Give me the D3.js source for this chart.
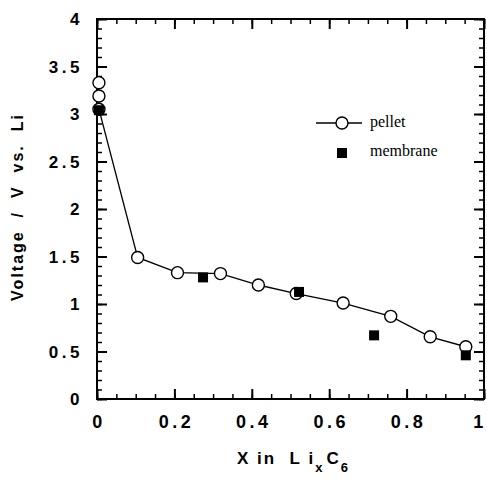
<!DOCTYPE html>
<html>
<head>
<meta charset="utf-8">
<script src="https://cdn.jsdelivr.net/npm/d3@7"></script>
<style>
  body { margin: 0; background: #fff; }
  svg { display: block; }
</style>
</head>
<body>
<div id="chart"></div>
<script>
// pellet (open circles, joined by a line)
const pelletX = [0.005, 0.005, 0.005, 0.105, 0.208, 0.319, 0.417, 0.515, 0.636, 0.759, 0.861, 0.953];
const pelletV = [3.33, 3.19, 3.05, 1.49, 1.33, 1.32, 1.20, 1.11, 1.01, 0.87, 0.655, 0.55];
// membrane (filled squares)
const membraneX = [0.005, 0.274, 0.522, 0.716, 0.953];
const membraneV = [3.04, 1.28, 1.127, 0.67, 0.46];

const xTicks = [0, 0.2, 0.4, 0.6, 0.8, 1];
const yTicks = [0, 0.5, 1, 1.5, 2, 2.5, 3, 3.5, 4];
const legendNames = ["pellet", "membrane"];

const W = 487, H = 479;
const margin = {top: 19, right: 3, bottom: 80, left: 97};
const w = W - margin.left - margin.right;
const h = H - margin.top - margin.bottom;

const svg = d3.select("#chart").append("svg")
  .attr("width", W).attr("height", H);

const chart = svg.append("g")
  .attr("transform", `translate(${margin.left},${margin.top})`);

const x = d3.scaleLinear().domain([0, 1]).range([0, w]);
const y = d3.scaleLinear().domain([0, 4]).range([h, 0]);

const xMinor = d3.range(0, 1.0001, 0.05);
const yMinor = d3.range(0, 4.0001, 0.1);

function tickStyle(g, width) {
  g.select(".domain").remove();
  g.selectAll(".tick line").attr("stroke", "#000").attr("stroke-width", width);
  g.selectAll(".tick text").remove();
}

// minor ticks, inward on all four sides
chart.append("g").attr("transform", `translate(0,${h})`)
  .call(d3.axisBottom(x).tickValues(xMinor).tickSize(-5)).call(g => tickStyle(g, 1.5));
chart.append("g")
  .call(d3.axisTop(x).tickValues(xMinor).tickSize(-5)).call(g => tickStyle(g, 1.5));
chart.append("g")
  .call(d3.axisLeft(y).tickValues(yMinor).tickSize(-5)).call(g => tickStyle(g, 1.5));
chart.append("g").attr("transform", `translate(${w},0)`)
  .call(d3.axisRight(y).tickValues(yMinor).tickSize(-5)).call(g => tickStyle(g, 1.5));

// major ticks
chart.append("g").attr("transform", `translate(0,${h})`)
  .call(d3.axisBottom(x).tickValues(xTicks).tickSize(-10)).call(g => tickStyle(g, 2));
chart.append("g")
  .call(d3.axisTop(x).tickValues(xTicks).tickSize(-10)).call(g => tickStyle(g, 2));
chart.append("g")
  .call(d3.axisLeft(y).tickValues(yTicks).tickSize(-10)).call(g => tickStyle(g, 2));
chart.append("g").attr("transform", `translate(${w},0)`)
  .call(d3.axisRight(y).tickValues(yTicks).tickSize(-10)).call(g => tickStyle(g, 2));

// frame
chart.append("rect")
  .attr("width", w).attr("height", h)
  .attr("fill", "none").attr("stroke", "#000").attr("stroke-width", 2);

// tick labels
const labelFont = "'Liberation Sans', Arial, sans-serif";
const fmt = d => (d === 0 || d === 1) ? String(d) : d3.format(".1f")(d);

chart.append("g").selectAll("text")
  .data(xTicks).join("text")
  .attr("x", d => d === 1 ? x(d) - 4 : x(d) + 2)
  .attr("y", h + 29)
  .attr("text-anchor", "middle")
  .attr("font-family", labelFont).attr("font-weight", "bold")
  .attr("font-size", 18).attr("letter-spacing", 3.5)
  .text(fmt);

chart.append("g").selectAll("text")
  .data(yTicks).join("text")
  .attr("x", -14)
  .attr("y", d => y(d) + 6)
  .attr("text-anchor", "end")
  .attr("font-family", labelFont).attr("font-weight", "bold")
  .attr("font-size", 17).attr("letter-spacing", 3.5)
  .text(d => d % 1 === 0 ? String(d) : d3.format(".1f")(d));

// axis titles
svg.append("text")
  .attr("transform", `translate(23,${margin.top + h / 2 - 2}) rotate(-90)`)
  .attr("text-anchor", "middle")
  .attr("font-family", labelFont).attr("font-weight", "bold")
  .attr("font-size", 16).attr("letter-spacing", 2)
  .attr("xml:space", "preserve")
  .text("Voltage  /  V  vs.  Li");

const xt = svg.append("text")
  .attr("x", 237).attr("y", 464)
  .attr("font-family", labelFont).attr("font-weight", "bold")
  .attr("font-size", 17).attr("letter-spacing", 2)
  .attr("xml:space", "preserve");
xt.append("tspan").text("X in  L i");
xt.append("tspan").attr("dy", 8).attr("font-size", 13).text("x");
xt.append("tspan").attr("dy", -8).attr("dx", 2).text("C");
xt.append("tspan").attr("dy", 8).attr("font-size", 13).text("6");

// pellet line and circles
const pellet = pelletX.map((v, i) => ({x: v, y: pelletV[i]}));
const membrane = membraneX.map((v, i) => ({x: v, y: membraneV[i]}));

chart.append("path")
  .datum(pellet)
  .attr("d", d3.line().x(d => x(d.x)).y(d => y(d.y)))
  .attr("fill", "none").attr("stroke", "#000").attr("stroke-width", 1.3);

chart.selectAll("circle.pellet")
  .data(pellet).join("circle")
  .attr("class", "pellet")
  .attr("cx", d => x(d.x)).attr("cy", d => y(d.y))
  .attr("r", 6)
  .attr("fill", "#fff").attr("stroke", "#000").attr("stroke-width", 1.4);

const sq = 10;
chart.selectAll("rect.membrane")
  .data(membrane).join("rect")
  .attr("class", "membrane")
  .attr("x", d => x(d.x) - sq / 2).attr("y", d => y(d.y) - sq / 2)
  .attr("width", sq).attr("height", sq)
  .attr("fill", "#000");

// legend
const lg = svg.append("g");
lg.append("line")
  .attr("x1", 316).attr("x2", 362).attr("y1", 123).attr("y2", 123)
  .attr("stroke", "#000").attr("stroke-width", 1.3);
lg.append("circle")
  .attr("cx", 342).attr("cy", 123).attr("r", 6)
  .attr("fill", "#fff").attr("stroke", "#000").attr("stroke-width", 1.4);
lg.append("rect")
  .attr("x", 337).attr("y", 148).attr("width", sq).attr("height", sq)
  .attr("fill", "#000");
lg.selectAll("text")
  .data(legendNames).join("text")
  .attr("x", 370)
  .attr("y", (d, i) => 127 + i * 29)
  .attr("font-family", "'Liberation Serif', 'Times New Roman', serif")
  .attr("font-size", 16)
  .text(d => d);
</script>
</body>
</html>
